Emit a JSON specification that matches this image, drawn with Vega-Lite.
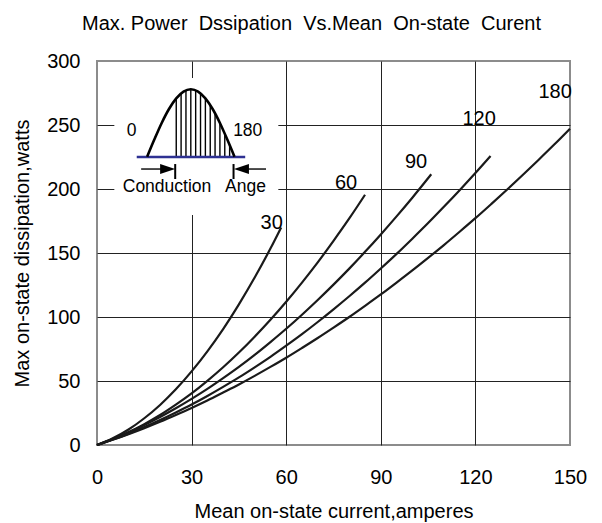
{
  "$schema": "https://vega.github.io/schema/vega-lite/v6.json",
  "width": 473,
  "height": 384,
  "autosize": {"type": "none"},
  "padding": {"left": 97, "top": 61, "right": 32, "bottom": 78},
  "background": "white",
  "title": {
    "text": "Max. Power\u00a0 Dssipation\u00a0 Vs.Mean\u00a0 On-state\u00a0 Curent",
    "font": "Liberation Sans",
    "fontSize": 20,
    "fontWeight": "normal",
    "color": "#000000",
    "anchor": "middle",
    "frame": "group",
    "baseline": "alphabetic",
    "offset": 1,
    "dx": -22
  },
  "config": {
    "view": {"stroke": "#8c8c8c", "strokeWidth": 2},
    "font": "Liberation Sans"
  },
  "datasets": {
    "curves": [
      {"series": "30", "x": 0, "y": 0}, {"series": "30", "x": 5, "y": 5.2}, {"series": "30", "x": 10, "y": 12.1}, {"series": "30", "x": 15, "y": 20.9}, {"series": "30", "x": 20, "y": 31.3}, {"series": "30", "x": 25, "y": 43.5}, {"series": "30", "x": 30, "y": 57.5}, {"series": "30", "x": 35, "y": 73.2}, {"series": "30", "x": 40, "y": 90.6}, {"series": "30", "x": 45, "y": 109.9}, {"series": "30", "x": 50, "y": 130.8}, {"series": "30", "x": 55, "y": 153.5}, {"series": "30", "x": 58.4, "y": 170},
      {"series": "60", "x": 0, "y": 0}, {"series": "60", "x": 5, "y": 4.6}, {"series": "60", "x": 10, "y": 10}, {"series": "60", "x": 15, "y": 16.3}, {"series": "60", "x": 20, "y": 23.4}, {"series": "60", "x": 25, "y": 31.5}, {"series": "60", "x": 30, "y": 40.3}, {"series": "60", "x": 35, "y": 50.1}, {"series": "60", "x": 40, "y": 60.7}, {"series": "60", "x": 45, "y": 72.2}, {"series": "60", "x": 50, "y": 84.6}, {"series": "60", "x": 55, "y": 97.8}, {"series": "60", "x": 60, "y": 111.9}, {"series": "60", "x": 65, "y": 126.9}, {"series": "60", "x": 70, "y": 142.7}, {"series": "60", "x": 75, "y": 159.5}, {"series": "60", "x": 80, "y": 177}, {"series": "60", "x": 85, "y": 195.5},
      {"series": "90", "x": 0, "y": 0}, {"series": "90", "x": 5, "y": 4.7}, {"series": "90", "x": 10, "y": 9.9}, {"series": "90", "x": 15, "y": 15.6}, {"series": "90", "x": 20, "y": 21.9}, {"series": "90", "x": 25, "y": 28.7}, {"series": "90", "x": 30, "y": 36}, {"series": "90", "x": 35, "y": 43.8}, {"series": "90", "x": 40, "y": 52.2}, {"series": "90", "x": 45, "y": 61}, {"series": "90", "x": 50, "y": 70.4}, {"series": "90", "x": 55, "y": 80.4}, {"series": "90", "x": 60, "y": 90.8}, {"series": "90", "x": 65, "y": 101.8}, {"series": "90", "x": 70, "y": 113.3}, {"series": "90", "x": 75, "y": 125.3}, {"series": "90", "x": 80, "y": 137.8}, {"series": "90", "x": 85, "y": 150.9}, {"series": "90", "x": 90, "y": 164.5}, {"series": "90", "x": 95, "y": 178.6}, {"series": "90", "x": 100, "y": 193.2}, {"series": "90", "x": 106, "y": 211.5},
      {"series": "120", "x": 0, "y": 0}, {"series": "120", "x": 5, "y": 4.3}, {"series": "120", "x": 10, "y": 8.9}, {"series": "120", "x": 15, "y": 14}, {"series": "120", "x": 20, "y": 19.5}, {"series": "120", "x": 25, "y": 25.4}, {"series": "120", "x": 30, "y": 31.6}, {"series": "120", "x": 35, "y": 38.3}, {"series": "120", "x": 40, "y": 45.4}, {"series": "120", "x": 45, "y": 52.8}, {"series": "120", "x": 50, "y": 60.7}, {"series": "120", "x": 55, "y": 68.9}, {"series": "120", "x": 60, "y": 77.6}, {"series": "120", "x": 65, "y": 86.6}, {"series": "120", "x": 70, "y": 96.1}, {"series": "120", "x": 75, "y": 106}, {"series": "120", "x": 80, "y": 116.2}, {"series": "120", "x": 85, "y": 126.8}, {"series": "120", "x": 90, "y": 137.9}, {"series": "120", "x": 95, "y": 149.3}, {"series": "120", "x": 100, "y": 161.2}, {"series": "120", "x": 105, "y": 173.4}, {"series": "120", "x": 110, "y": 186.1}, {"series": "120", "x": 115, "y": 199.1}, {"series": "120", "x": 120, "y": 212.5}, {"series": "120", "x": 124.8, "y": 225.8},
      {"series": "180", "x": 0, "y": 0}, {"series": "180", "x": 5, "y": 4.1}, {"series": "180", "x": 10, "y": 8.5}, {"series": "180", "x": 15, "y": 13.2}, {"series": "180", "x": 20, "y": 18.2}, {"series": "180", "x": 25, "y": 23.5}, {"series": "180", "x": 30, "y": 29}, {"series": "180", "x": 35, "y": 34.8}, {"series": "180", "x": 40, "y": 41}, {"series": "180", "x": 45, "y": 47.3}, {"series": "180", "x": 50, "y": 54}, {"series": "180", "x": 55, "y": 61}, {"series": "180", "x": 60, "y": 68.2}, {"series": "180", "x": 65, "y": 75.8}, {"series": "180", "x": 70, "y": 83.6}, {"series": "180", "x": 75, "y": 91.7}, {"series": "180", "x": 80, "y": 100}, {"series": "180", "x": 85, "y": 108.7}, {"series": "180", "x": 90, "y": 117.6}, {"series": "180", "x": 95, "y": 126.9}, {"series": "180", "x": 100, "y": 136.4}, {"series": "180", "x": 105, "y": 146.2}, {"series": "180", "x": 110, "y": 156.2}, {"series": "180", "x": 115, "y": 166.6}, {"series": "180", "x": 120, "y": 177.2}, {"series": "180", "x": 125, "y": 188.2}, {"series": "180", "x": 130, "y": 199.4}, {"series": "180", "x": 135, "y": 210.9}, {"series": "180", "x": 140, "y": 222.7}, {"series": "180", "x": 145, "y": 234.7}, {"series": "180", "x": 150, "y": 247.1}
    ],
    "curveLabels": [
      {"label": "30", "x": 55.4, "y": 173.2},
      {"label": "60", "x": 79, "y": 204.5},
      {"label": "90", "x": 101.2, "y": 221},
      {"label": "120", "x": 121.2, "y": 255},
      {"label": "180", "x": 145.3, "y": 276}
    ],
    "insetBox": [{"x": 5.5, "x2": 57.5, "y": 179.7, "y2": 286.7}],
    "sine": [
      {"x": 15.9, "y": 225.2}, {"x": 18.21, "y": 238.8}, {"x": 20.52, "y": 251.6}, {"x": 22.83, "y": 262.5}, {"x": 25.13, "y": 270.8}, {"x": 27.44, "y": 276.1}, {"x": 29.75, "y": 277.9}, {"x": 32.06, "y": 276.1}, {"x": 34.37, "y": 270.8}, {"x": 36.67, "y": 262.5}, {"x": 38.98, "y": 251.6}, {"x": 41.29, "y": 238.8}, {"x": 43.6, "y": 225.2}
    ],
    "hatch": [
      {"x": 25.13, "y": 225.2, "y2": 270.8}, {"x": 26.67, "y": 225.2, "y2": 274.7}, {"x": 28.21, "y": 225.2, "y2": 277.1}, {"x": 29.75, "y": 225.2, "y2": 277.9}, {"x": 31.29, "y": 225.2, "y2": 277.1}, {"x": 32.83, "y": 225.2, "y2": 274.7}, {"x": 34.37, "y": 225.2, "y2": 270.8}, {"x": 35.91, "y": 225.2, "y2": 265.6}, {"x": 37.44, "y": 225.2, "y2": 259.1}, {"x": 38.98, "y": 225.2, "y2": 251.6}, {"x": 40.52, "y": 225.2, "y2": 243.2}, {"x": 42.06, "y": 225.2, "y2": 234.4}
    ],
    "baseLine": [{"x": 12.6, "x2": 47.0, "y": 225.0}],
    "arrowLines": [{"x": 14.0, "x2": 23.0, "y": 215.6}, {"x": 45.0, "x2": 53.6, "y": 215.6}],
    "arrowBars": [{"x": 24.8, "y": 207.8, "y2": 219.5}, {"x": 43.3, "y": 207.8, "y2": 219.5}],
    "headRight": [{"x": 22.4, "y": 215.6}],
    "headLeft": [{"x": 45.8, "y": 215.6}],
    "insetText": [
      {"label": "0", "x": 11.0, "y": 245.5},
      {"label": "180", "x": 47.8, "y": 245.5},
      {"label": "Conduction", "x": 22.2, "y": 201.8},
      {"label": "Ange", "x": 47.1, "y": 201.8}
    ]
  },
  "encoding": {
    "x": {
      "field": "x",
      "type": "quantitative",
      "scale": {"domain": [0, 150], "nice": false, "zero": false},
      "axis": {
        "values": [0, 30, 60, 90, 120, 150],
        "grid": true,
        "gridColor": {"condition": {"test": "datum.value === 0 || datum.value === 150", "value": "transparent"}, "value": "#222222"},
        "gridWidth": 1,
        "domain": false,
        "ticks": false,
        "labelFlush": false,
        "labelFont": "Liberation Sans",
        "labelFontSize": 20,
        "labelColor": "#000000",
        "labelPadding": 22,
        "title": "Mean on-state current,amperes",
        "titleFont": "Liberation Sans",
        "titleFontSize": 20,
        "titleFontWeight": "normal",
        "titleColor": "#000000",
        "titleY": 66,
        "titleBaseline": "middle"
      }
    },
    "y": {
      "field": "y",
      "type": "quantitative",
      "scale": {"domain": [0, 300], "nice": false, "zero": false},
      "axis": {
        "values": [0, 50, 100, 150, 200, 250, 300],
        "grid": true,
        "gridColor": {"condition": {"test": "datum.value === 0 || datum.value === 300", "value": "transparent"}, "value": "#222222"},
        "gridWidth": 1,
        "domain": false,
        "ticks": false,
        "labelFont": "Liberation Sans",
        "labelFontSize": 20,
        "labelColor": "#000000",
        "labelPadding": 17,
        "title": "Max on-state dissipation,watts",
        "titleFont": "Liberation Sans",
        "titleFontSize": 20,
        "titleFontWeight": "normal",
        "titleColor": "#000000",
        "titleX": -75,
        "titleY": 192,
        "titleAngle": -90,
        "titleAlign": "center",
        "titleBaseline": "middle"
      }
    }
  },
  "layer": [
    {
      "data": {"name": "insetBox"},
      "mark": {"type": "rect", "fill": "white", "stroke": null},
      "encoding": {"x2": {"field": "x2"}, "y2": {"field": "y2"}}
    },
    {
      "data": {"name": "hatch"},
      "mark": {"type": "rule", "color": "#000000", "strokeWidth": 1.4},
      "encoding": {"y2": {"field": "y2"}}
    },
    {
      "data": {"name": "baseLine"},
      "mark": {"type": "rule", "color": "#2e3192", "strokeWidth": 2.5},
      "encoding": {"x2": {"field": "x2"}}
    },
    {
      "data": {"name": "sine"},
      "mark": {"type": "line", "color": "#000000", "strokeWidth": 2.6, "interpolate": "monotone"},
      "encoding": {}
    },
    {
      "data": {"name": "arrowLines"},
      "mark": {"type": "rule", "color": "#000000", "strokeWidth": 1.4},
      "encoding": {"x2": {"field": "x2"}}
    },
    {
      "data": {"name": "arrowBars"},
      "mark": {"type": "rule", "color": "#000000", "strokeWidth": 2},
      "encoding": {"y2": {"field": "y2"}}
    },
    {
      "data": {"name": "headRight"},
      "mark": {"type": "point", "shape": "M-1,-0.67L1,0L-1,0.67Z", "filled": true, "color": "#000000", "opacity": 1, "size": 225, "strokeWidth": 0},
      "encoding": {}
    },
    {
      "data": {"name": "headLeft"},
      "mark": {"type": "point", "shape": "M1,-0.67L-1,0L1,0.67Z", "filled": true, "color": "#000000", "opacity": 1, "size": 225, "strokeWidth": 0},
      "encoding": {}
    },
    {
      "data": {"name": "insetText"},
      "mark": {"type": "text", "font": "Liberation Sans", "fontSize": 17.5, "color": "#000000", "align": "center", "baseline": "middle"},
      "encoding": {"text": {"field": "label"}}
    },
    {
      "data": {"name": "curves"},
      "mark": {"type": "line", "color": "#1a1a1a", "strokeWidth": 2.2, "interpolate": "monotone"},
      "encoding": {"detail": {"field": "series"}}
    },
    {
      "data": {"name": "curveLabels"},
      "mark": {"type": "text", "font": "Liberation Sans", "fontSize": 20, "color": "#000000", "align": "center", "baseline": "middle"},
      "encoding": {"text": {"field": "label"}}
    }
  ]
}
